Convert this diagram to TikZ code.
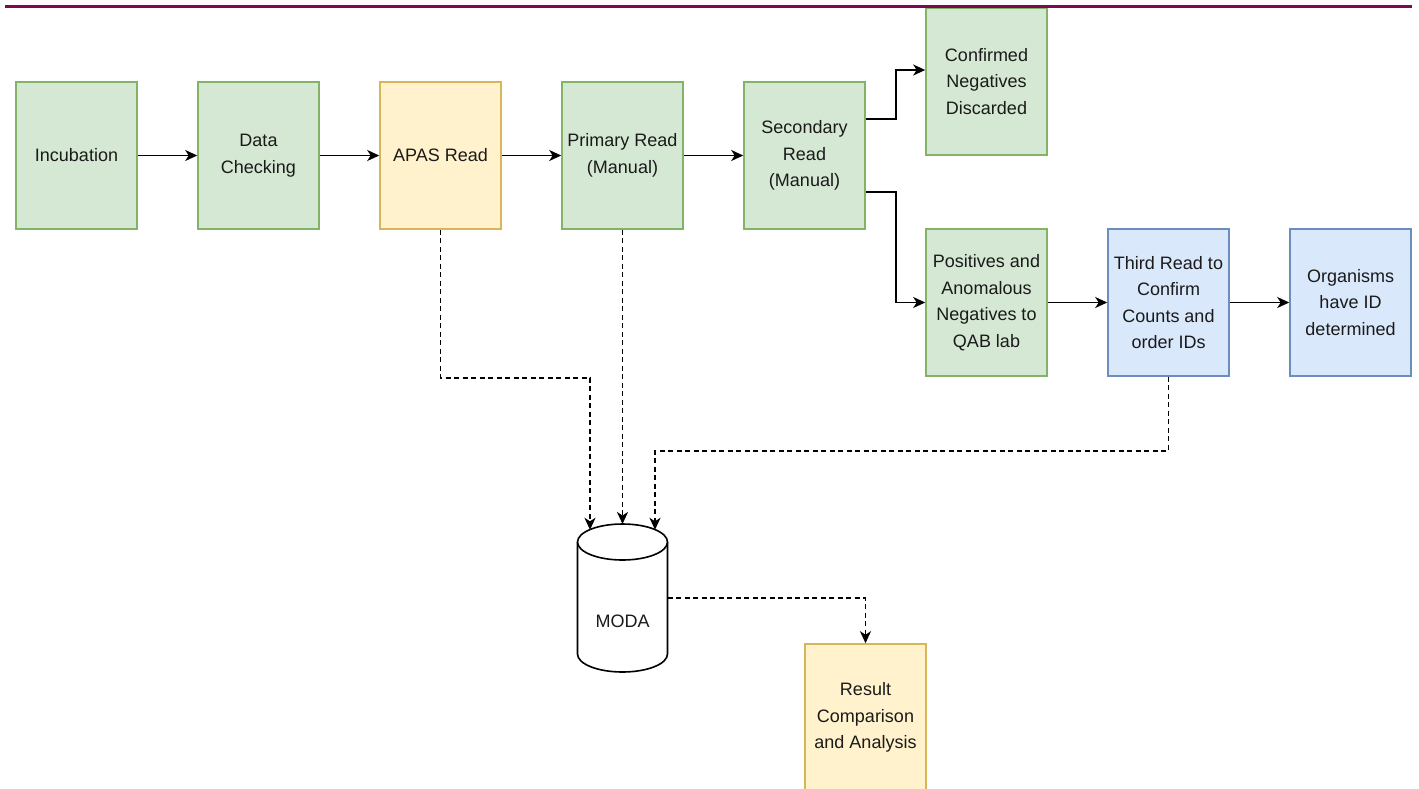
\documentclass[tikz,border=0pt]{standalone}
\usepackage{fontspec}
\setmainfont{Liberation Sans}
\usetikzlibrary{arrows.meta}
\definecolor{grnfill}{HTML}{D5E8D4}
\definecolor{grnline}{HTML}{82B366}
\definecolor{ylwfill}{HTML}{FFF2CC}
\definecolor{ylwline}{HTML}{D6B656}
\definecolor{blufill}{HTML}{DAE8FC}
\definecolor{bluline}{HTML}{6C8EBF}
\definecolor{rulecol}{HTML}{7D0A4F}
\definecolor{inkcol}{HTML}{1A1A1A}
\begin{document}
\begin{tikzpicture}[x=1pt,y=-1pt,
  box/.style={draw, line width=1.6pt, minimum width=121pt, minimum height=147pt,
    inner sep=0pt, align=center, text=inkcol, font=\fontsize{18}{26.5}\selectfont},
  grn/.style={box, fill=grnfill, draw=grnline},
  ylw/.style={box, fill=ylwfill, draw=ylwline},
  blu/.style={box, fill=blufill, draw=bluline},
  arr/.style={line width=1.9pt, -{Stealth[length=12pt,width=11pt,inset=3.5pt]}},
  darr/.style={arr, dash pattern=on 5pt off 3.5pt}]
\useasboundingbox (0,0) rectangle (1419,788);

% process boxes
\node[grn] (inc)  at (76.5,155.5)  {Incubation};
\node[grn] (dat)  at (258.5,155.5) {Data\\Checking};
\node[ylw] (apas) at (440.5,155.5) {APAS Read};
\node[grn] (prim) at (622.5,155.5) {Primary Read\\(Manual)};
\node[grn] (sec)  at (804.5,155.5) {Secondary\\Read\\(Manual)};
\node[grn] (conf) at (986.5,81.5)  {Confirmed\\Negatives\\Discarded};
\node[grn] (pos)  at (986.5,302.5) {Positives and\\Anomalous\\Negatives to\\QAB lab};
\node[blu] (thr)  at (1168.5,302.5) {Third Read to\\Confirm\\Counts and\\order IDs};
\node[blu] (org)  at (1350.5,302.5) {Organisms\\have ID\\determined};
\node[ylw] (res)  at (865.5,717.5)  {Result\\Comparison\\and Analysis};

% database cylinder
\draw[line width=1.6pt, fill=white] (577.5,542) -- (577.5,654)
  arc[start angle=180, end angle=0, x radius=45, y radius=18] -- (667.5,542);
\draw[line width=1.6pt, fill=white] (622.5,542) ellipse [x radius=45, y radius=18];
\node[font=\fontsize{18}{26.5}\selectfont, text=inkcol, inner sep=0pt] (moda) at (622.5,621) {MODA};
\coordinate (m1) at (590,529.8);
\coordinate (m2) at (622.5,524);
\coordinate (m3) at (655,529.8);
\coordinate (mout) at (667.5,598);

% main flow
\draw[arr] (inc) -- (dat);
\draw[arr] (dat) -- (apas);
\draw[arr] (apas) -- (prim);
\draw[arr] (prim) -- (sec);
\draw[arr] ([yshift=36.5pt]sec.east) -- ++(30,0) |- ([yshift=11.5pt]conf.west);
\draw[arr] ([yshift=-36.5pt]sec.east) -- ++(30,0) |- (pos.west);
\draw[arr] (pos) -- (thr);
\draw[arr] (thr) -- (org);

% data recorded in MODA
\draw[darr] (apas.south) -- ++(0,148) -| (m1);
\draw[darr] (prim.south) -- (m2);
\draw[darr] (thr.south) -- ++(0,74) -| (m3);
\draw[darr] (mout) -| (res.north);

% header rule
\draw[rulecol, line width=3pt] (5,6) -- (1412,6);
\end{tikzpicture}
\end{document}
